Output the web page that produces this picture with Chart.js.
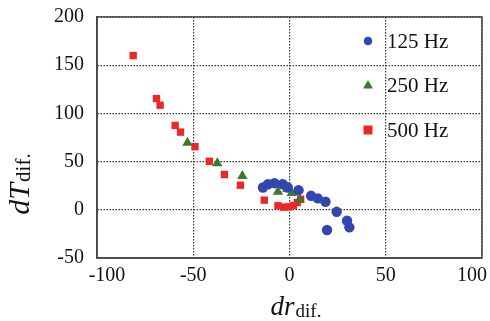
<!DOCTYPE html>
<html>
<head>
<meta charset="utf-8">
<script src="https://cdn.jsdelivr.net/npm/chart.js@4.4.1/dist/chart.umd.min.js"></script>
<style>
html,body{margin:0;padding:0;background:#fff;}
#wrap{width:490px;height:321px;position:relative;}
</style>
</head>
<body>
<div id="wrap"><canvas id="c" width="490" height="321"></canvas></div>
<script>
// ---- data ----
const seriesNames = ["125 Hz", "250 Hz", "500 Hz"];
const hz125X = [-13.8, -11.2, -7.8, -3.5, -0.9, 4.7, 11.2, 14.7, 18.7, 24.5, 29.9, 31.1, 19.5];
const hz125Y = [23.1, 26.5, 27.6, 26.5, 23.1, 20.4, 14.5, 11.8, 8.3, -2.1, -11.4, -18.2, -21.0];
const hz250X = [-53.0, -37.5, -24.5, -7.5, -4.0, -6.0, -1.2, 1.2, 5.2];
const hz250Y = [69.6, 48.2, 35.1, 26.5, 26.5, 18.6, 21.8, 17.5, 10.8];
const hz500X = [-81.2, -69.1, -67.2, -59.4, -56.6, -49.1, -41.6, -33.8, -25.5, -13.1, -6.0, -3.0, -0.5, 2.0, 4.0, 5.8];
const hz500Y = [160.0, 115.4, 108.5, 87.5, 80.6, 65.5, 50.3, 36.6, 25.5, 10.0, 4.2, 2.8, 3.0, 4.5, 7.5, 11.0];
const xTicks = [-100, -50, 0, 50, 100];
const yTicks = [-50, 0, 50, 100, 150, 200];

const toPts = (xs, ys) => xs.map((x, i) => ({x: x, y: ys[i]}));
const BLUE = "#3346b0", GREEN = "#3b7a2c", RED = "#ee2626";
const SERIF = "'Liberation Serif', 'Times New Roman', serif";

const legendPlugin = {
  id: 'customLegend',
  afterDatasetsDraw(chart) {
    const ctx = chart.ctx;
    const rows = [41, 85, 130];
    const styles = [
      {shape: 'circle', color: BLUE},
      {shape: 'triangle', color: GREEN},
      {shape: 'square', color: RED}
    ];
    ctx.save();
    rows.forEach((yy, i) => {
      const mx = 368;
      ctx.fillStyle = styles[i].color;
      ctx.beginPath();
      if (styles[i].shape === 'circle') {
        ctx.arc(mx, yy, 4.3, 0, Math.PI * 2);
      } else if (styles[i].shape === 'triangle') {
        ctx.moveTo(mx, yy - 5); ctx.lineTo(mx + 5, yy + 3.5); ctx.lineTo(mx - 5, yy + 3.5); ctx.closePath();
      } else {
        ctx.rect(mx - 4.5, yy - 4.5, 9, 9);
      }
      ctx.fill();
      ctx.fillStyle = '#111';
      ctx.font = "21px " + SERIF;
      ctx.textBaseline = 'middle';
      ctx.textAlign = 'left';
      ctx.fillText(seriesNames[i], 387, yy + 1);
    });
    ctx.restore();
  },
  afterDraw(chart) {
    const ctx = chart.ctx;
    ctx.save();
    ctx.fillStyle = '#111';
    ctx.textBaseline = 'alphabetic';
    // x title
    ctx.font = "italic 27px " + SERIF;
    const w1 = ctx.measureText('dr').width;
    ctx.font = "19px " + SERIF;
    const w2 = ctx.measureText('dif.').width;
    let sx = 296 - (w1 + w2 + 1) / 2;
    ctx.font = "italic 27px " + SERIF;
    ctx.fillText('dr', sx, 315);
    ctx.font = "19px " + SERIF;
    ctx.fillText('dif.', sx + w1 + 1, 317);
    // y title
    ctx.translate(29, 184);
    ctx.rotate(-Math.PI / 2);
    ctx.font = "italic 30px " + SERIF;
    const v1 = ctx.measureText('dT').width;
    ctx.font = "21px " + SERIF;
    const v2 = ctx.measureText('dif.').width;
    let sy = -(v1 + v2 + 1) / 2;
    ctx.font = "italic 30px " + SERIF;
    ctx.fillText('dT', sy, 0);
    ctx.font = "21px " + SERIF;
    ctx.fillText('dif.', sy + v1 + 1, 1);
    ctx.restore();
  }
};

new Chart(document.getElementById('c'), {
  type: 'scatter',
  data: {
    datasets: [
      {label: seriesNames[0], data: toPts(hz125X, hz125Y), pointStyle: 'circle', pointRadius: 5.2,
       backgroundColor: BLUE, borderColor: BLUE, borderWidth: 0},
      {label: seriesNames[1], data: toPts(hz250X, hz250Y), pointStyle: 'triangle', pointRadius: 6,
       backgroundColor: GREEN, borderColor: GREEN, borderWidth: 0},
      {label: seriesNames[2], data: toPts(hz500X, hz500Y), pointStyle: 'rect', pointRadius: 5.2,
       backgroundColor: RED, borderColor: RED, borderWidth: 0}
    ]
  },
  options: {
    responsive: false,
    animation: false,
    events: [],
    layout: {padding: {left: 0, right: 8, top: 17, bottom: 0}},
    plugins: {legend: {display: false}, tooltip: {enabled: false}},
    scales: {
      x: {
        type: 'linear', min: -100, max: 100,
        afterBuildTicks: (s) => { s.ticks = xTicks.map(v => ({value: v})); },
        afterFit: (s) => { s.height = 63; s.paddingLeft = 0; s.paddingRight = 0; },
        grid: {color: '#333', lineWidth: 1.2, drawTicks: false},
        border: {display: true, color: '#444', width: 1.5, dash: [1.5, 1.5]},
        ticks: {color: '#111', font: {family: SERIF, size: 20}, padding: 6, maxRotation: 0,
                callback: (v) => v === xTicks[0] ? '\u2003' + v : (v === xTicks[xTicks.length - 1] ? v + '\u2003' : String(v))}
      },
      y: {
        type: 'linear', min: -50, max: 200,
        afterBuildTicks: (s) => { s.ticks = yTicks.map(v => ({value: v})); },
        afterFit: (s) => { s.width = 97; s.paddingTop = 0; s.paddingBottom = 0; },
        grid: {color: '#333', lineWidth: 1.2, drawTicks: false},
        border: {display: true, color: '#444', width: 1.5, dash: [1.5, 1.5]},
        ticks: {color: '#111', font: {family: SERIF, size: 20}, padding: 13,
                callback: (v) => String(v)}
      }
    }
  },
  plugins: [legendPlugin, {
    id: 'frame',
    afterDatasetsDraw(chart) {
      const a = chart.chartArea, ctx = chart.ctx;
      ctx.save();
      ctx.strokeStyle = '#444';
      ctx.lineWidth = 1.5;
      ctx.setLineDash([]);
      ctx.strokeRect(a.left, a.top, a.right - a.left, a.bottom - a.top);
      ctx.restore();
    }
  }]
});
</script>
</body>
</html>
